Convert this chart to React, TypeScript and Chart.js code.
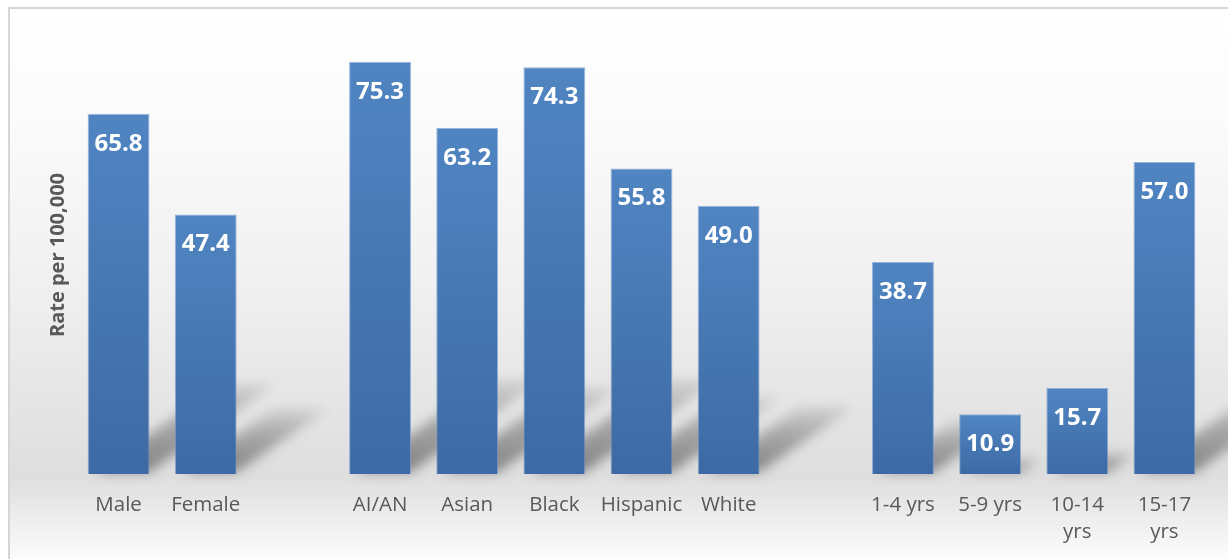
import React, { useEffect, useRef } from "react";
import { Chart, registerables } from "chart.js";

Chart.register(...registerables);

const categories: (string | string[])[] = [
  "Male", "Female", "",
  "AI/AN", "Asian", "Black", "Hispanic", "White", "",
  "1-4 yrs", "5-9 yrs", ["10-14", "yrs"], ["15-17", "yrs"],
];
const rates: (number | null)[] = [
  65.8, 47.4, null,
  75.3, 63.2, 74.3, 55.8, 49.0, null,
  38.7, 10.9, 15.7, 57.0,
];
const yAxisTitle = "Rate per 100,000";

const W = 1228;
const H = 559;

const backgroundPlugin = {
  id: "bgFrame",
  beforeDraw(chart: any) {
    const ctx = chart.ctx;
    ctx.save();
    ctx.fillStyle = "#ffffff";
    ctx.fillRect(0, 0, W, H);
    const g = ctx.createLinearGradient(0, 8, 0, H);
    g.addColorStop(0, "#ffffff");
    g.addColorStop(0.2, "#fbfbfb");
    g.addColorStop(0.5, "#f0f0f0");
    g.addColorStop(0.72, "#e5e5e5");
    g.addColorStop(0.85, "#dedede");
    g.addColorStop(0.91, "#eaeaea");
    g.addColorStop(1, "#fcfcfc");
    ctx.fillStyle = g;
    ctx.fillRect(9, 8, W - 9, H - 8);
    ctx.strokeStyle = "#d6d6d6";
    ctx.lineWidth = 2;
    ctx.beginPath();
    ctx.moveTo(9, H);
    ctx.lineTo(9, 8);
    ctx.lineTo(W, 8);
    ctx.stroke();
    ctx.restore();
  },
  beforeDatasetsDraw(chart: any) {
    const ctx = chart.ctx;
    const meta = chart.getDatasetMeta(0);
    ctx.save();
    ctx.filter = "blur(6px)";
    meta.data.forEach((bar: any, i: number) => {
      if (rates[i] == null) return;
      const base = bar.base;
      const h = base - bar.y;
      if (!isFinite(base) || !isFinite(h)) return;
      const half = bar.width / 2;
      const left = bar.x - half;
      const right = bar.x + half;
      const dy = Math.min(h * 0.25, 95);
      const dx = dy * 1.4;
      const grad = ctx.createLinearGradient(0, base, 0, base - dy);
      grad.addColorStop(0, "rgba(0,0,0,0.42)");
      grad.addColorStop(0.6, "rgba(0,0,0,0.25)");
      grad.addColorStop(1, "rgba(0,0,0,0.08)");
      ctx.fillStyle = grad;
      ctx.beginPath();
      ctx.moveTo(left + 8, base - 2);
      ctx.lineTo(right, base - 2);
      ctx.lineTo(right + dx, base - dy);
      ctx.lineTo(left + 8 + dx, base - dy);
      ctx.closePath();
      ctx.fill();
    });
    ctx.restore();
  },
  afterDatasetsDraw(chart: any) {
    const ctx = chart.ctx;
    const meta = chart.getDatasetMeta(0);
    ctx.save();
    ctx.fillStyle = "#ffffff";
    ctx.font = "bold 24px 'Open Sans'";
    ctx.textAlign = "center";
    ctx.textBaseline = "middle";
    meta.data.forEach((bar: any, i: number) => {
      const v = rates[i];
      if (v == null) return;
      ctx.fillText(v.toFixed(1), bar.x, bar.y + 30);
    });
    const area = chart.chartArea;
    ctx.translate(58, (area.top + area.bottom) / 2);
    ctx.rotate(-Math.PI / 2);
    ctx.fillStyle = "#595959";
    ctx.font = "bold 20px 'Open Sans'";
    ctx.fillText(yAxisTitle, 0, 0);
    ctx.restore();
  },
};

export default function App() {
  const ref = useRef<HTMLCanvasElement | null>(null);
  useEffect(() => {
    document.documentElement.style.overflow = "hidden";
    document.body.style.overflow = "hidden";
    const canvas = ref.current!;
    const chart = new Chart(canvas, {
      type: "bar",
      data: {
        labels: categories as any,
        datasets: [
          {
            data: rates as any,
            backgroundColor: (c: any) => {
              const ch = c.chart;
              const ys = ch.scales && ch.scales.y;
              const v = c.raw;
              if (!ys || v == null) return "#4a7bb7";
              const top = ys.getPixelForValue(v);
              const base = ys.getPixelForValue(0);
              if (!isFinite(top) || !isFinite(base) || top === base) return "#4a7bb7";
              const g = ch.ctx.createLinearGradient(0, top, 0, base);
              g.addColorStop(0, "#5085c2");
              g.addColorStop(1, "#3d6aa5");
              return g;
            },
            borderColor: "rgba(110,150,205,0.7)",
            borderWidth: 1,
            categoryPercentage: 1,
            barPercentage: 0.71,
          },
        ],
      },
      options: {
        responsive: false,
        animation: false,
        layout: { padding: { left: 75, right: 20, top: 36, bottom: -5 } },
        plugins: {
          legend: { display: false },
          tooltip: { enabled: false },
          title: { display: false },
        },
        scales: {
          x: {
            grid: { display: false, drawTicks: false },
            border: { display: false },
            ticks: {
              color: "#595959",
              font: { family: "'Open Sans'", size: 20.5, lineHeight: "27px" as any },
              padding: 18,
              autoSkip: false,
              maxRotation: 0,
              minRotation: 0,
            },
          },
          y: {
            display: false,
            min: 0,
            max: 80,
          },
        },
      },
      plugins: [backgroundPlugin],
    });
    return () => chart.destroy();
  }, []);
  return (
    <canvas
      ref={ref}
      width={W}
      height={H}
      style={{ position: "absolute", left: 0, top: 0, width: W, height: H }}
    />
  );
}
